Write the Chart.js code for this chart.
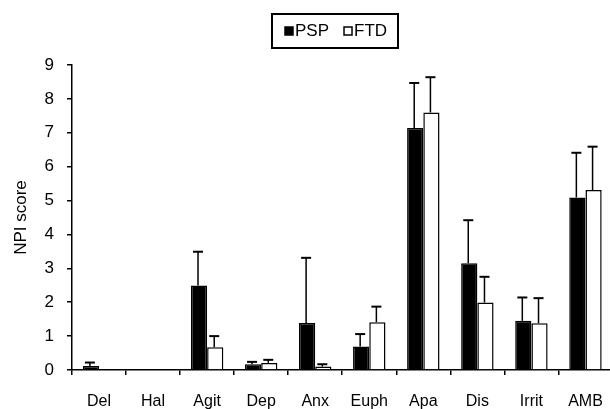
<!DOCTYPE html>
<html>
<head>
<meta charset="utf-8">
<script src="https://cdn.jsdelivr.net/npm/chart.js@4"></script>
<style>
  html, body { margin: 0; padding: 0; background: #fff; overflow: hidden; }
  #wrap { width: 620px; height: 409px; }
</style>
</head>
<body>
<div id="wrap"><canvas id="npiChart" width="620" height="409"></canvas></div>
<script>
// Data
const categories = ['Del', 'Hal', 'Agit', 'Dep', 'Anx', 'Euph', 'Apa', 'Dis', 'Irrit', 'AMB'];
const pspMeans = [0.12, 0, 2.49, 0.17, 1.39, 0.69, 7.14, 3.15, 1.45, 5.09];
const pspErrTop = [0.22, 0, 3.49, 0.24, 3.31, 1.06, 8.47, 4.42, 2.14, 6.41];
const ftdMeans = [0, 0, 0.67, 0.21, 0.1, 1.41, 7.6, 1.99, 1.38, 5.31];
const ftdErrTop = [0, 0, 1.0, 0.3, 0.17, 1.87, 8.64, 2.75, 2.12, 6.59];
const yTicks = [0, 1, 2, 3, 4, 5, 6, 7, 8, 9];

const FONT = "'Liberation Sans', Arial, sans-serif";

// draws the upper error bar (stem + cap) over each bar
const errorBars = {
  id: 'errorBars',
  afterDatasetsDraw(chart) {
    const ctx = chart.ctx;
    const y = chart.scales.y;
    [pspErrTop, ftdErrTop].forEach((tops, di) => {
      const meta = chart.getDatasetMeta(di);
      meta.data.forEach((bar, i) => {
        const top = tops[i];
        const val = chart.data.datasets[di].data[i];
        if (!top || top <= val) return;
        const yTop = y.getPixelForValue(top);
        ctx.save();
        ctx.strokeStyle = '#000';
        ctx.lineWidth = 1.5;
        ctx.beginPath();
        ctx.moveTo(bar.x - 1, bar.y);
        ctx.lineTo(bar.x - 1, yTop);
        ctx.stroke();
        ctx.lineWidth = 2;
        ctx.beginPath();
        ctx.moveTo(bar.x - 6, yTop);
        ctx.lineTo(bar.x + 4, yTop);
        ctx.stroke();
        ctx.restore();
      });
    });
  }
};

// boxed legend at the top, as in the figure
const boxedLegend = {
  id: 'boxedLegend',
  afterDraw(chart) {
    const ctx = chart.ctx;
    ctx.save();
    ctx.strokeStyle = '#000';
    ctx.lineWidth = 2;
    ctx.strokeRect(272, 14, 126, 34);
    ctx.font = '17px ' + FONT;
    ctx.textBaseline = 'middle';
    let x = 285;
    chart.data.datasets.forEach((ds) => {
      ctx.fillStyle = ds.backgroundColor;
      ctx.fillRect(x, 27, 8, 8);
      ctx.lineWidth = 1.5;
      ctx.strokeRect(x, 27, 8, 8);
      ctx.fillStyle = '#000';
      ctx.fillText(ds.label, x + 10, 31);
      x += 10 + ctx.measureText(ds.label).width + 15;
    });
    ctx.restore();
  }
};

const ctx = document.getElementById('npiChart').getContext('2d');
new Chart(ctx, {
  type: 'bar',
  data: {
    labels: categories,
    datasets: [
      {
        label: 'PSP',
        data: pspMeans,
        backgroundColor: '#000',
        borderColor: '#000',
        borderWidth: 1.5,
        categoryPercentage: 0.6,
        barPercentage: 1.0
      },
      {
        label: 'FTD',
        data: ftdMeans,
        backgroundColor: '#fff',
        borderColor: '#000',
        borderWidth: 1.5,
        categoryPercentage: 0.6,
        barPercentage: 1.0
      }
    ]
  },
  options: {
    responsive: false,
    animation: false,
    layout: { padding: { top: 65, right: 4, left: 0, bottom: 0 } },
    plugins: {
      legend: { display: false },
      tooltip: { enabled: false }
    },
    scales: {
      x: {
        grid: { drawOnChartArea: false, color: '#000', tickLength: 5, lineWidth: 1.5 },
        border: { color: '#000', width: 1.5 },
        ticks: { color: '#000', font: { family: FONT, size: 16 }, padding: 17, maxRotation: 0 },
        afterFit(scale) { scale.height = 39; }
      },
      y: {
        min: 0,
        max: 9,
        afterBuildTicks(scale) { scale.ticks = yTicks.map(v => ({ value: v })); },
        grid: { drawOnChartArea: false, color: '#000', tickLength: 5, lineWidth: 1.5 },
        border: { color: '#000', width: 1.5 },
        ticks: { color: '#000', font: { family: FONT, size: 17 }, padding: 13 },
        title: {
          display: true,
          text: 'NPI score',
          color: '#000',
          font: { family: FONT, size: 17 },
          padding: { top: 11, bottom: 0 }
        },
        afterFit(scale) { scale.width = 72; }
      }
    }
  },
  plugins: [errorBars, boxedLegend]
});
</script>
</body>
</html>
